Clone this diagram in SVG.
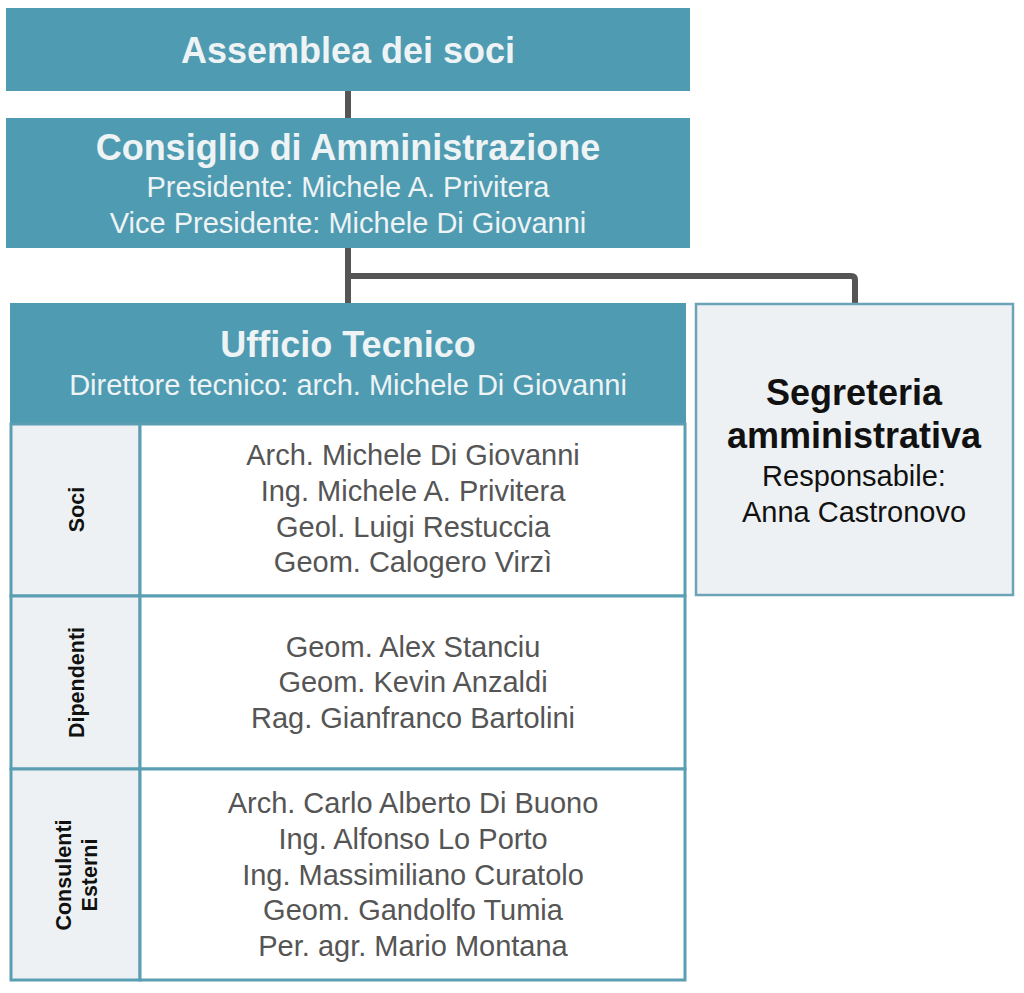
<svg xmlns="http://www.w3.org/2000/svg" width="1024" height="993" viewBox="0 0 1024 993">
<style>
  .teal { fill: #4F9BB1; }
  .title { font-family: "Liberation Sans", Arial, sans-serif; font-weight: bold; font-size: 36px; fill: #EEF3F5; text-anchor: middle; }
  .sub { font-family: "Liberation Sans", Arial, sans-serif; font-size: 29px; fill: #EEF3F5; text-anchor: middle; }
  .name { font-family: "Liberation Sans", Arial, sans-serif; font-size: 29px; fill: #555555; text-anchor: middle; }
  .lbl { font-family: "Liberation Sans", Arial, sans-serif; font-weight: bold; font-size: 21.5px; fill: #111111; text-anchor: middle; }
  .cell { stroke: #5A9EB4; stroke-width: 3; }
  .conn { fill: none; stroke: #555555; stroke-width: 6; stroke-linejoin: round; }
  .btitle { font-family: "Liberation Sans", Arial, sans-serif; font-weight: bold; font-size: 36px; fill: #111111; text-anchor: middle; }
  .bsub { font-family: "Liberation Sans", Arial, sans-serif; font-size: 29px; fill: #111111; text-anchor: middle; }
</style>
<rect width="1024" height="993" fill="#FFFFFF"/>
<g id="connectors">
  <line class="conn" x1="348" y1="90" x2="348" y2="119"/>
  <line class="conn" x1="348" y1="247" x2="348" y2="304"/>
  <path class="conn" d="M348,276 H851 Q855,276 855,280 V304"/>
</g>
<g id="assemblea">
  <rect class="teal" x="6" y="8" width="684" height="83"/>
  <text class="title" x="348" y="63">Assemblea dei soci</text>
</g>
<g id="consiglio">
  <rect class="teal" x="6" y="118" width="684" height="130"/>
  <text class="title" x="348" y="160">Consiglio di Amministrazione</text>
  <text class="sub" x="348" y="197">Presidente: Michele A. Privitera</text>
  <text class="sub" x="348" y="233">Vice Presidente: Michele Di Giovanni</text>
</g>
<g id="ufficio-tecnico">
  <rect class="teal" x="10" y="303" width="676" height="120"/>
  <text class="title" x="348" y="357">Ufficio Tecnico</text>
  <text class="sub" x="348" y="395">Direttore tecnico: arch. Michele Di Giovanni</text>
  <rect class="cell" x="11" y="424" width="129" height="172" fill="#EEF1F3"/>
  <rect class="cell" x="140" y="424" width="545" height="172" fill="#FFFFFF"/>
  <rect class="cell" x="11" y="596" width="129" height="173" fill="#EEF1F3"/>
  <rect class="cell" x="140" y="596" width="545" height="173" fill="#FFFFFF"/>
  <rect class="cell" x="11" y="769" width="129" height="211" fill="#EEF1F3"/>
  <rect class="cell" x="140" y="769" width="545" height="211" fill="#FFFFFF"/>
  <text class="lbl" transform="translate(84,509.5) rotate(-90)">Soci</text>
  <text class="lbl" transform="translate(84,682.5) rotate(-90)">Dipendenti</text>
  <text class="lbl" transform="translate(71,875) rotate(-90)">Consulenti</text>
  <text class="lbl" transform="translate(97,875) rotate(-90)">Esterni</text>
  <text class="name" x="413" y="465">Arch. Michele Di Giovanni</text>
  <text class="name" x="413" y="501">Ing. Michele A. Privitera</text>
  <text class="name" x="413" y="537">Geol. Luigi Restuccia</text>
  <text class="name" x="413" y="572">Geom. Calogero Virzì</text>
  <text class="name" x="413" y="657">Geom. Alex Stanciu</text>
  <text class="name" x="413" y="692">Geom. Kevin Anzaldi</text>
  <text class="name" x="413" y="728">Rag. Gianfranco Bartolini</text>
  <text class="name" x="413" y="813">Arch. Carlo Alberto Di Buono</text>
  <text class="name" x="413" y="849">Ing. Alfonso Lo Porto</text>
  <text class="name" x="413" y="885">Ing. Massimiliano Curatolo</text>
  <text class="name" x="413" y="920">Geom. Gandolfo Tumia</text>
  <text class="name" x="413" y="956">Per. agr. Mario Montana</text>
</g>
<g id="segreteria">
  <rect x="696" y="304" width="317" height="291" fill="#EEF1F3" stroke="#6BA4B6" stroke-width="2.5"/>
  <text class="btitle" x="854" y="405">Segreteria</text>
  <text class="btitle" x="854" y="448">amministrativa</text>
  <text class="bsub" x="854" y="486">Responsabile:</text>
  <text class="bsub" x="854" y="522">Anna Castronovo</text>
</g>
</svg>
